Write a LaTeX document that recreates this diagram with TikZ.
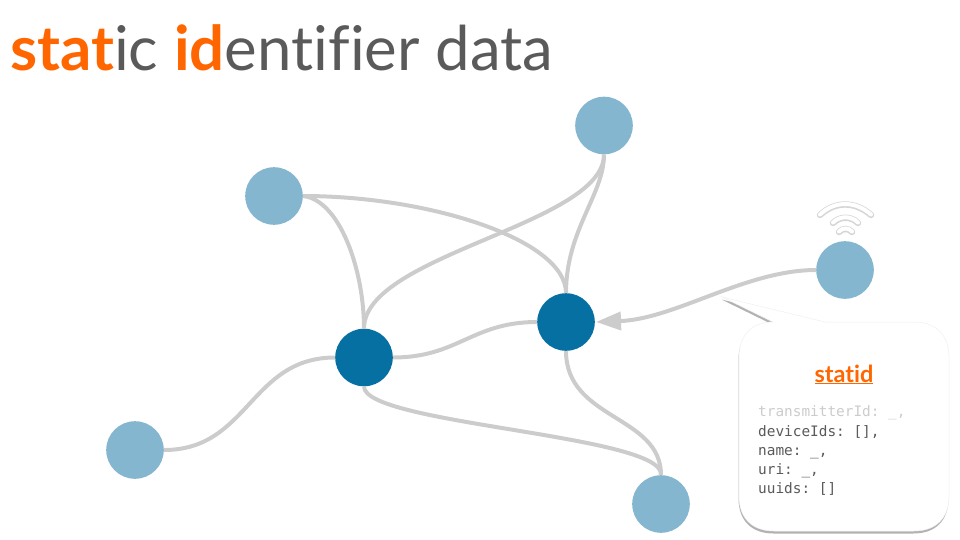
\documentclass[tikz,border=0pt]{standalone}
\usepackage{fontspec}
\setmainfont{Lato}[Ligatures=NoCommon]
\setmonofont{DejaVu Sans Mono}
\usetikzlibrary{arrows.meta,shadows}
\definecolor{ink}{HTML}{5A5A5A}
\definecolor{accent}{HTML}{FF6600}
\definecolor{mute}{HTML}{CCCCCC}
\definecolor{lightnode}{HTML}{85B6D0}
\definecolor{darknode}{HTML}{0770A2}

\begin{document}
\begin{tikzpicture}[
  x=1pt, y=-1pt, ink,
  hub/.style={circle, fill=darknode, minimum size=57.6pt, inner sep=0pt},
  leaf/.style={circle, fill=lightnode, minimum size=57.6pt, inner sep=0pt},
  link/.style={draw=mute, line width=4pt},
  fwd/.style={link, -{Triangle[length=25pt, width=18pt]}, shorten >=1pt},
  wave/.style={draw=black!16, line width=6.4pt, line cap=round},
  wavetop/.style={draw=white, line width=4pt, line cap=round},
  bubble/.style={fill=white, draw=black!6, line width=0.5pt,
                 drop shadow={shadow xshift=-0.5pt, shadow yshift=-2.5pt, opacity=0.3, fill=black}},
  code/.style={anchor=base west, inner sep=0pt, font=\fontsize{14.4}{17}\selectfont\ttfamily},
]
\useasboundingbox (0,0) rectangle (960,540);

% ---- title ------------------------------------------------------------------
\node[anchor=base west, inner sep=0pt, font=\fontsize{61.7}{70}\selectfont] (title) at (10,71)
  {\textcolor{accent}{\textbf{stat}}ic \textcolor{accent}{\textbf{id}}entifier data};

% ---- nodes ------------------------------------------------------------------
\node[leaf] (top) at (604,125.5) {};
\node[leaf] (left) at (274,196) {};
\node[leaf] (beacon) at (845,270) {};
\node[leaf] (low) at (135,450) {};
\node[leaf] (bottom) at (661,504) {};
\node[hub] (hubr) at (566,322) {};
\node[hub] (hubl) at (364,357.5) {};

% ---- connectors -------------------------------------------------------------
\draw[link] (left.east) .. controls +(37,4) and +(0,-58) .. (hubl.north);
\draw[link] (left.east) .. controls +(127,0) and +(0,-53) .. (hubr.north);
\draw[link] (top.south) .. controls +(0,70) and +(0,-74) .. (hubl.north);
\draw[link] (top.south) .. controls +(0,40) and +(0,-63) .. (hubr.north);
\draw[link] (hubl.east) .. controls +(65,0) and +(-65,0) .. (hubr.west);
\draw[link] (low.east) .. controls +(85,0) and +(-85,0) .. (hubl.west);
\draw[link] (hubl.south) .. controls +(0,38) and +(4,-40) .. (bottom.north);
\draw[link] (hubr.south) .. controls +(0,69) and +(0,-60) .. (bottom.north);
\draw[fwd] (beacon.west) .. controls +(-70,0) and +(80,-3) .. (hubr.east);

% ---- signal -----------------------------------------------------------------
\draw[wave] (820,215) .. controls (835,201) and (855,201) .. (871,215);
\draw[wavetop] (820,214.5) .. controls (835,200.5) and (855,200.5) .. (871,214.5);
\draw[wave] (833,223) .. controls (840,216) and (851,216) .. (858,223);
\draw[wavetop] (833,222.5) .. controls (840,215.5) and (851,215.5) .. (858,222.5);
\draw[wave] (839,232) .. controls (842,228) and (849,228) .. (852,232);
\draw[wavetop] (839,231.5) .. controls (842,227.5) and (849,227.5) .. (852,231.5);

% ---- callout ----------------------------------------------------------------
\draw[bubble] (773,322) -- (722,297) -- (825,322) -- (914,322)
  .. controls (936,322) and (949,335) .. (949,357) -- (949,496)
  .. controls (949,518) and (936,531) .. (914,531) -- (774,531)
  .. controls (752,531) and (739,518) .. (739,496) -- (739,357)
  .. controls (739,335) and (752,322) .. (773,322) -- cycle;
\node[inner sep=0pt, anchor=base, font=\fontsize{23.5}{26}\selectfont\bfseries, text=accent] (name) at (844,382)
  {\underline{statid}};
\node[code, text=mute] (f1) at (758,416) {transmitterId: \_,};
\node[code] (f2) at (758,436) {deviceIds: [],};
\node[code] (f3) at (758,455) {name: \_,};
\node[code] (f4) at (758,474) {uri: \_,};
\node[code] (f5) at (758,493) {uuids: []};

\end{tikzpicture}
\end{document}
